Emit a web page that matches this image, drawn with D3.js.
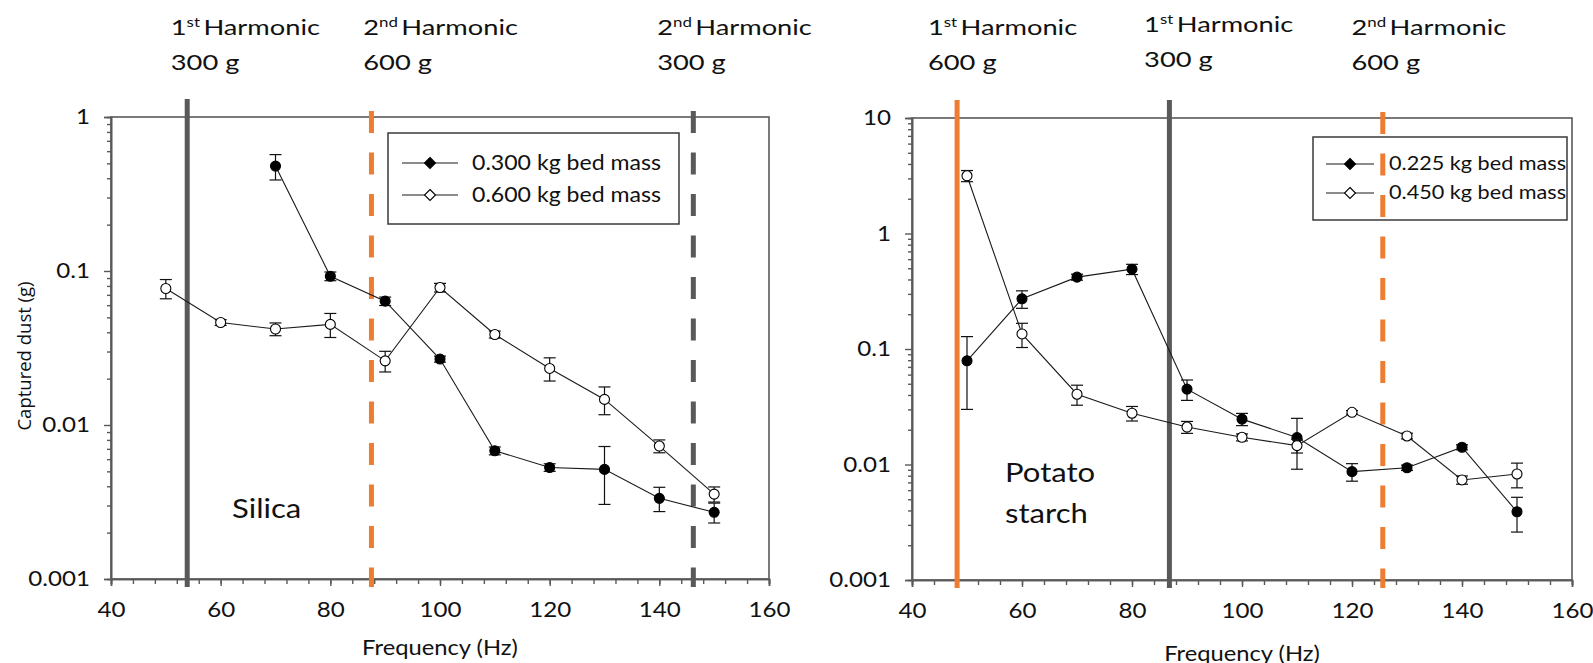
<!DOCTYPE html>
<html>
<head>
<meta charset="utf-8">
<script src="https://cdn.jsdelivr.net/npm/d3@7"></script>
<style>
  html, body { margin: 0; padding: 0; background: #fff; }
  svg { display: block; }
  text { font-family: Lato, "Open Sans", sans-serif; fill: #111; }
</style>
</head>
<body>
<svg id="chart" width="1593" height="663"></svg>
<script>
// Vibration frequency (Hz) at which captured dust was measured
const frequencies = [50, 60, 70, 80, 90, 100, 110, 120, 130, 140, 150];

// Silica: captured dust (g) and error-bar half widths
const silica300 = [null, null, 0.48, 0.0925, 0.0637, 0.0268, 0.0068, 0.0053, 0.00515, 0.00334, 0.00271];
const silica300Err = [null, null, 0.09, 0.006, 0.004, 0.0012, 0.0004, 0.0003, 0.0021, 0.0006, 0.0004];
const silica600 = [0.077, 0.0463, 0.042, 0.045, 0.0261, 0.0781, 0.0387, 0.0233, 0.01466, 0.0073, 0.00356];
const silica600Err = [0.011, 0.002, 0.004, 0.008, 0.004, 0.005, 0.002, 0.004, 0.003, 0.0007, 0.0004];

// Potato starch: captured dust (g) and error-bar half widths
const potato225 = [0.079, 0.272, 0.419, 0.491, 0.0449, 0.0247, 0.0171, 0.00867, 0.00938, 0.0141, 0.0039];
const potato225Err = [0.049, 0.047, 0.025, 0.05, 0.009, 0.003, 0.008, 0.0015, 0.0005, 0.0007, 0.0013];
const potato450 = [3.16, 0.135, 0.0406, 0.0278, 0.0211, 0.0172, 0.01457, 0.0283, 0.01766, 0.00735, 0.00828];
const potato450Err = [0.35, 0.032, 0.008, 0.004, 0.0025, 0.0012, 0.002, 0.001, 0.001, 0.0006, 0.002];

// Axis ticks
const xTicks = [40, 60, 80, 100, 120, 140, 160];
const silicaYTicks = [0.001, 0.01, 0.1, 1];
const potatoYTicks = [0.001, 0.01, 0.1, 1, 10];

// Resonance frequencies marked on each plot (Hz)
const silicaHarmonics = [
  { hz: 53.9, order: "1", suffix: "st", mass: "300 g", kind: "grey", dashed: false, labelHz: 50.9 },
  { hz: 87.5, order: "2", suffix: "nd", mass: "600 g", kind: "orange", dashed: true, labelHz: 86.0 },
  { hz: 146.2, order: "2", suffix: "nd", mass: "300 g", kind: "grey", dashed: true, labelHz: 139.6 }
];
const potatoHarmonics = [
  { hz: 48.2, order: "1", suffix: "st", mass: "600 g", kind: "orange", dashed: false, labelHz: 42.9 },
  { hz: 86.8, order: "1", suffix: "st", mass: "300 g", kind: "grey", dashed: false, labelHz: 82.2, raise: true },
  { hz: 125.6, order: "2", suffix: "nd", mass: "600 g", kind: "orange", dashed: true, labelHz: 119.9 }
];

const COLORS = { grey: "#595959", orange: "#ED7D31", axis: "#595959", data: "#1a1a1a" };

const svg = d3.select("#chart");

// widen text horizontally about its own x anchor
function stretch(sel, k) {
  sel.each(function () {
    const t = d3.select(this);
    const x = +t.attr("x") || 0;
    t.attr("transform", `translate(${x},0) scale(${k},1) translate(${-x},0)`);
  });
  return sel;
}

function drawPanel(cfg) {
  const g = svg.append("g");
  const x = d3.scaleLinear().domain([40, 160]).range([cfg.x0, cfg.x1]);
  const y = d3.scaleLog().domain(cfg.yDomain).range([cfg.y1, cfg.y0]);

  // frame
  g.append("rect")
    .attr("x", cfg.x0).attr("y", cfg.y0)
    .attr("width", cfg.x1 - cfg.x0).attr("height", cfg.y1 - cfg.y0)
    .attr("fill", "none").attr("stroke", COLORS.axis).attr("stroke-width", 1.6);

  // x axis: major ticks with labels, minor every 4 Hz
  const xMinor = d3.range(40, 160.1, 4);
  const xAxisMinor = g.append("g").attr("transform", `translate(0,${cfg.y1})`)
    .call(d3.axisBottom(x).tickValues(xMinor).tickSize(5).tickFormat(""));
  const xAxis = g.append("g").attr("transform", `translate(0,${cfg.y1})`)
    .call(d3.axisBottom(x).tickValues(xTicks).tickSize(7).tickPadding(16).tickFormat(d3.format("d")));

  // y axis: decades labelled, minor ticks 2..9 per decade
  const [lo, hi] = cfg.yDomain;
  const yMinor = [];
  for (let d = lo; d < hi; d *= 10) for (let k = 2; k <= 9; k++) yMinor.push(d * k);
  const yAxisMinor = g.append("g").attr("transform", `translate(${cfg.x0},0)`)
    .call(d3.axisLeft(y).tickValues(yMinor).tickSize(4).tickFormat(""));
  const yAxis = g.append("g").attr("transform", `translate(${cfg.x0},0)`)
    .call(d3.axisLeft(y).tickValues(cfg.yTicks).tickSize(7).tickPadding(14).tickFormat(d => String(d)));

  [xAxisMinor, xAxis, yAxisMinor, yAxis].forEach(a => {
    a.select(".domain").attr("stroke", COLORS.axis).attr("stroke-width", 1.6);
    a.selectAll(".tick line").attr("stroke", COLORS.axis).attr("stroke-width", 1.4);
    a.selectAll(".tick text").style("font-size", "21px").style("font-family", "Lato, sans-serif").attr("fill", "#111");
  });
  stretch(xAxis.selectAll(".tick text"), 1.15);
  stretch(yAxis.selectAll(".tick text"), 1.15);

  // axis titles
  stretch(g.append("text")
    .attr("x", (cfg.x0 + cfg.x1) / 2).attr("y", cfg.xTitleY)
    .attr("text-anchor", "middle").style("font-size", "22px")
    .text("Frequency (Hz)"), 1.08);
  if (cfg.yTitle) {
    g.append("text")
      .attr("transform", `translate(31,${(cfg.y0 + cfg.y1) / 2 + 8}) rotate(-90)`)
      .attr("text-anchor", "middle")
      .style("font-size", "18.5px").style("font-family", "'Open Sans', sans-serif")
      .text(cfg.yTitle);
  }

  // legend box
  const lg = g.append("g");
  lg.append("rect")
    .attr("x", cfg.legend.x).attr("y", cfg.legend.y)
    .attr("width", cfg.legend.w).attr("height", cfg.legend.h)
    .attr("fill", "#fff").attr("stroke", "#3a3a3a").attr("stroke-width", 1.5);
  cfg.series.forEach((s, i) => {
    const ry = cfg.legend.y + cfg.legend.rows[i];
    const lx0 = cfg.legend.x + cfg.legend.lineX0, lx1 = lx0 + cfg.legend.lineW;
    lg.append("line").attr("x1", lx0).attr("x2", lx1).attr("y1", ry).attr("y2", ry)
      .attr("stroke", COLORS.data).attr("stroke-width", 1.2);
    const m = 5.5, cx = (lx0 + lx1) / 2;
    lg.append("path")
      .attr("d", `M${cx},${ry - m}L${cx + m},${ry}L${cx},${ry + m}L${cx - m},${ry}Z`)
      .attr("fill", s.filled ? "#000" : "#fff").attr("stroke", "#000").attr("stroke-width", 1.1);
    stretch(lg.append("text")
      .attr("x", cfg.legend.x + cfg.legend.textX).attr("y", ry)
      .attr("dy", "0.35em").style("font-size", cfg.legend.fontSize + "px")
      .text(s.name), cfg.legend.stretch);
  });

  // harmonic marker lines and their labels
  cfg.harmonics.forEach(h => {
    g.append("line")
      .attr("x1", x(h.hz)).attr("x2", x(h.hz))
      .attr("y1", cfg.y0 - (h.dashed ? 6 : 18)).attr("y2", cfg.y1 + 8)
      .attr("stroke", COLORS[h.kind]).attr("stroke-width", 5)
      .attr("stroke-dasharray", h.dashed ? "22,19.5" : null);
    const t = g.append("text")
      .attr("x", x(h.labelHz)).attr("y", h.raise ? 32 : 35)
      .style("font-size", "21px");
    t.append("tspan").text(h.order);
    t.append("tspan").attr("dy", -8).style("font-size", "13px").text(h.suffix);
    t.append("tspan").attr("dy", 8).text("\u2009Harmonic");
    stretch(t, 1.3);
    stretch(g.append("text")
      .attr("x", x(h.labelHz)).attr("y", h.raise ? 67 : 70)
      .style("font-size", "21px").text(h.mass), 1.3);
  });

  // material name
  cfg.material.forEach((line, i) => {
    stretch(g.append("text").attr("x", cfg.materialX).attr("y", cfg.materialY + i * 41)
      .style("font-size", "27px").text(line), 1.15);
  });

  // series: error bars, connecting lines, markers
  cfg.series.forEach(s => {
    const pts = frequencies.map((f, i) => ({ f, v: s.values[i], e: s.errors[i] }))
      .filter(d => d.v != null);
    const sg = g.append("g");
    sg.append("path").datum(pts)
      .attr("d", d3.line().x(d => x(d.f)).y(d => y(d.v)))
      .attr("fill", "none").attr("stroke", COLORS.data).attr("stroke-width", 1.1);
    const eb = sg.selectAll(".err").data(pts).join("g");
    eb.append("line")
      .attr("x1", d => x(d.f)).attr("x2", d => x(d.f))
      .attr("y1", d => y(d.v + d.e)).attr("y2", d => y(Math.max(d.v - d.e, 1e-6)))
      .attr("stroke", "#111").attr("stroke-width", 1.2);
    [d => d.v + d.e, d => d.v - d.e].forEach(fn => {
      eb.append("line")
        .attr("x1", d => x(d.f) - 6).attr("x2", d => x(d.f) + 6)
        .attr("y1", d => y(fn(d))).attr("y2", d => y(fn(d)))
        .attr("stroke", "#111").attr("stroke-width", 1.2);
    });
    sg.selectAll(".pt").data(pts).join("circle")
      .attr("cx", d => x(d.f)).attr("cy", d => y(d.v)).attr("r", 5)
      .attr("fill", s.filled ? "#000" : "#fff").attr("stroke", "#000").attr("stroke-width", 1.1);
  });
}

drawPanel({
  x0: 111, x1: 769, y0: 117, y1: 579,
  yDomain: [0.001, 1], yTicks: silicaYTicks,
  yTitle: "Captured dust (g)", xTitleY: 655,
  harmonics: silicaHarmonics,
  material: ["Silica"], materialX: 232, materialY: 518,
  legend: { x: 388, y: 133, w: 291, h: 91, rows: [30, 62], lineX0: 14, lineW: 56, textX: 84, fontSize: 21, stretch: 1.1 },
  series: [
    { name: "0.300 kg bed mass", values: silica300, errors: silica300Err, filled: true },
    { name: "0.600 kg bed mass", values: silica600, errors: silica600Err, filled: false }
  ]
});

drawPanel({
  x0: 912, x1: 1572, y0: 118, y1: 580,
  yDomain: [0.001, 10], yTicks: potatoYTicks,
  yTitle: null, xTitleY: 661,
  harmonics: potatoHarmonics,
  material: ["Potato", "starch"], materialX: 1005, materialY: 482,
  legend: { x: 1313, y: 137, w: 254, h: 83, rows: [27, 56], lineX0: 13, lineW: 48, textX: 76, fontSize: 18.5, stretch: 1.17 },
  series: [
    { name: "0.225 kg bed mass", values: potato225, errors: potato225Err, filled: true },
    { name: "0.450 kg bed mass", values: potato450, errors: potato450Err, filled: false }
  ]
});
</script>
</body>
</html>
